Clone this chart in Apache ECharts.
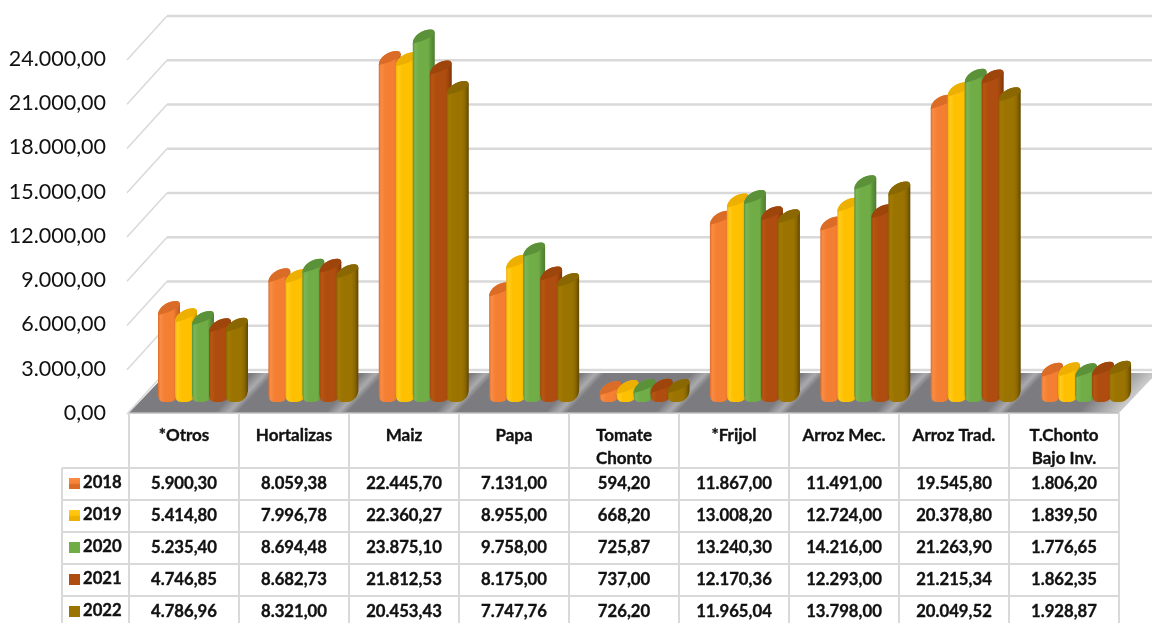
<!DOCTYPE html>
<html><head><meta charset="utf-8">
<style>html,body{margin:0;padding:0;background:#fff;overflow:hidden}#c{width:1152px;height:623px}</style>
<script src="https://cdn.jsdelivr.net/npm/echarts@6/dist/echarts.min.js"></script>
</head><body><div id="c"></div>
<script>
const categories = ['*Otros','Hortalizas','Maiz','Papa','Tomate\nChonto','*Frijol','Arroz Mec.','Arroz Trad.','T.Chonto\nBajo Inv.'];
const years = ['2018','2019','2020','2021','2022'];
const v2018 = [5900.30,8059.38,22445.70,7131.00,594.20,11867.00,11491.00,19545.80,1806.20];
const v2019 = [5414.80,7996.78,22360.27,8955.00,668.20,13008.20,12724.00,20378.80,1839.50];
const v2020 = [5235.40,8694.48,23875.10,9758.00,725.87,13240.30,14216.00,21263.90,1776.65];
const v2021 = [4746.85,8682.73,21812.53,8175.00,737.00,12170.36,12293.00,21215.34,1862.35];
const v2022 = [4786.96,8321.00,20453.43,7747.76,726.20,11965.04,13798.00,20049.52,1928.87];
const seriesValues = [v2018,v2019,v2020,v2021,v2022];
const yTicks = [0,3000,6000,9000,12000,15000,18000,21000,24000];
const colors = ['#F47F33','#FFC000','#70AD47','#AE4D0F','#9A7300'];
const lightColors = ['#F98C44','#FFCB1E','#7CB556','#B8560F','#A27A02'];
const capColors = ['#DA6C28','#EDB000','#5B9239','#9E450C','#8A6700'];
const darkColors = ['#B85E22','#C49400','#4F7C30','#7A360A','#5F4700'];

const FONT = 'Lato, Carlito, Calibri, sans-serif';
const DX = 38, DY = 40, BAR_W = 17, BAR_D = 5, RISE = 11, BASE_UP = 11, H_SCALE = 1.024, X_SCALE = 1.0035, ROW_H = 32, ROW_TOP = 468, KEY_LEFT = 62;
const fmt = v => { const p = v.toFixed(2).split('.'); return p[0].replace(/\B(?=(\d{3})+$)/g,'.') + ',' + p[1]; };
const line = (x1,y1,x2,y2,w,c) => ({type:'line',silent:true,shape:{x1,y1,x2,y2},style:{stroke:c||'#D9D9D9',lineWidth:w||2}});

function renderBackdrop(params, api) {
  const v = api.value(0);
  const p0 = api.coord([0, v]);
  const band = api.size([1,0])[0];
  const left = p0[0] - band/2;
  return {type:'group',children:[
    line(left-2, p0[1]+1, left+DX, p0[1]-DY-3, 1.5),
    line(left+DX, p0[1]-DY-3, 1152, p0[1]-DY-3, 2.5)
  ]};
}
function renderFloor(params, api) {
  const p0 = api.coord([0, 0]);
  const band = api.size([1,0])[0];
  const left = p0[0]-band/2, y = p0[1];
  const n = categories.length;
  const right = left + band*n;
  const W = band*n + DX;
  const stops = [];
  const dark = '#7C7C80', lite = '#ABABAE';
  for (let k=0;k<n;k++){
    const t=k*band/W, w=band/W;
    stops.push({offset:t+w*0.02,color:dark});
    if (k<n-1) {
      stops.push({offset:t+w*0.78,color:dark});
      stops.push({offset:t+w*0.9,color:lite});
      stops.push({offset:t+w*0.98,color:dark});
    }
  }
  stops.push({offset:(band*(n-1)+band*0.62)/W,color:dark});
  stops.push({offset:(band*n+6)/W,color:'#D8D8D8'});
  stops.push({offset:(band*n+DX*0.8)/W,color:'#FFFFFF'});
  stops.push({offset:1,color:'#FFFFFF'});
  const k = 40*W/(40*40+38*38);
  const grad = new echarts.graphic.LinearGradient(left, y, left+40*k, y+38*k, stops, true);
  return {type:'group',silent:true,children:[
    {type:'polygon',silent:true,shape:{points:[[left,y],[left+DX,y-DY],[right+DX,y-DY],[right,y]]},style:{fill:grad}},
    line(left,y,right,y,1.5,'#BDBDBD')
  ]};
}
function makeBar(s){
  return function(params, api){
    const i = api.value(0), v = api.value(1);
    const c = api.coord([i, 0]);
    const band = api.size([1,0])[0];
    const h = api.size([0,v])[1]*H_SCALE;
    const x0 = c[0] - band/2*(2*i+1);
    const x = x0 + 29 + i*band*X_SCALE + s*BAR_W, b = c[1]-BASE_UP, t = b-h;
    const w = BAR_W, d = BAR_D, R = RISE, e = w+d;
    const lowY = Math.max(t+2, b-8);
    const body = `M${x} ${t+2} L${x} ${lowY} Q${x} ${b} ${x+6} ${b} L${x+w-5} ${b} Q${x+e-1} ${b-2} ${x+e} ${b-R} L${x+e} ${t-R+3} Q${x+e} ${t-R-1} ${x+e-4} ${t-R-1} C${x+10} ${t-R-1} ${x} ${t-6} ${x} ${t+2} Z`;
    const cap = `M${x} ${t+2} C${x} ${t-6} ${x+10} ${t-R-1} ${x+e-4} ${t-R-1} Q${x+e} ${t-R-1} ${x+e} ${t-R+3} C${x+e-2} ${t-4} ${x+6} ${t+1} ${x} ${t+2} Z`;
    const grad = new echarts.graphic.LinearGradient(0,0,1,0,[
      {offset:0,color:capColors[s]},{offset:0.1,color:lightColors[s]},{offset:0.3,color:colors[s]},
      {offset:0.7,color:colors[s]},{offset:0.84,color:capColors[s]},{offset:1,color:darkColors[s]}]);
    return {type:'group',silent:true,children:[
      {type:'path',shape:{pathData:body},style:{fill:grad}},
      {type:'path',shape:{pathData:cap},style:{fill:capColors[s]}}
    ]};
  };
}
function renderTable(params, api){
  const i = params.dataIndex;
  const c = api.coord([i,0]);
  const band = api.size([1,0])[0];
  const L = c[0]-band/2, R = L+band;
  const ch = [line(R,c[1],R,623)];
  const textStyle = {font:'bold 16.7px '+FONT,fill:'#111',stroke:'#111',lineWidth:0.35,verticalAlign:'middle'};
  if (i===0) {
    ch.push(line(L,c[1],L,623));
    ch.push(line(KEY_LEFT,ROW_TOP,KEY_LEFT,623));
    for (let r=0;r<=years.length;r++) ch.push(line(KEY_LEFT,ROW_TOP+r*ROW_H,L+band*categories.length,ROW_TOP+r*ROW_H));
    years.forEach((y,r)=>{
      const cy = ROW_TOP+r*ROW_H+16;
      ch.push({type:'rect',silent:true,shape:{x:KEY_LEFT+7,y:cy-6,width:11,height:11},style:{fill:new echarts.graphic.LinearGradient(0,0,0,1,[
        {offset:0,color:r<2?lightColors[r]:colors[r]},{offset:r<2?0.55:1,color:colors[r]},{offset:r<2?0.6:1,color:capColors[r]},{offset:1,color:capColors[r]}])}});
      ch.push({type:'text',silent:true,style:Object.assign({x:KEY_LEFT+21,y:cy-1,text:y,align:'left'},textStyle)});
    });
  }
  seriesValues.forEach((arr,r)=>{
    ch.push({type:'text',silent:true,style:Object.assign({x:c[0],y:ROW_TOP+r*ROW_H+16,text:fmt(arr[i]),align:'center'},textStyle)});
  });
  return {type:'group',children:ch};
}
const series = [
  {type:'custom',name:'floor',renderItem:renderFloor,data:[0],clip:false,silent:true,z:1},
  {type:'custom',name:'wall',renderItem:renderBackdrop,data:yTicks.map(v=>[v]),encode:{y:0},clip:false,silent:true,z:0},
  ...years.map((y,s)=>({type:'custom',name:y,renderItem:makeBar(s),data:seriesValues[s].map((v,i)=>[i,v]),encode:{x:0,y:1},clip:false,silent:true,z:3+s})),
  {type:'custom',name:'table',renderItem:renderTable,data:categories.map((c,i)=>[i]),encode:{x:0},clip:false,silent:true,z:2}
];
const chart = echarts.init(document.getElementById('c'),null,{renderer:'canvas'});
chart.setOption({
  animation:false,
  backgroundColor:'#fff',
  grid:{left:129,right:33,top:59,bottom:210,containLabel:false},
  xAxis:{type:'category',data:categories,axisLine:{show:false},axisTick:{show:false},splitLine:{show:false},
    axisLabel:{interval:0,margin:11,color:'#111',fontFamily:FONT,fontWeight:'bold',fontSize:17,lineHeight:23,verticalAlign:'top',textBorderColor:'#111',textBorderWidth:0.35}},
  yAxis:{type:'value',min:0,max:24000,interval:3000,axisLine:{show:false},axisTick:{show:false},splitLine:{show:false},
    axisLabel:{margin:23,color:'#111',fontFamily:FONT,fontSize:21.5,formatter:v=>fmt(v)}},
  series
});
</script></body></html>
